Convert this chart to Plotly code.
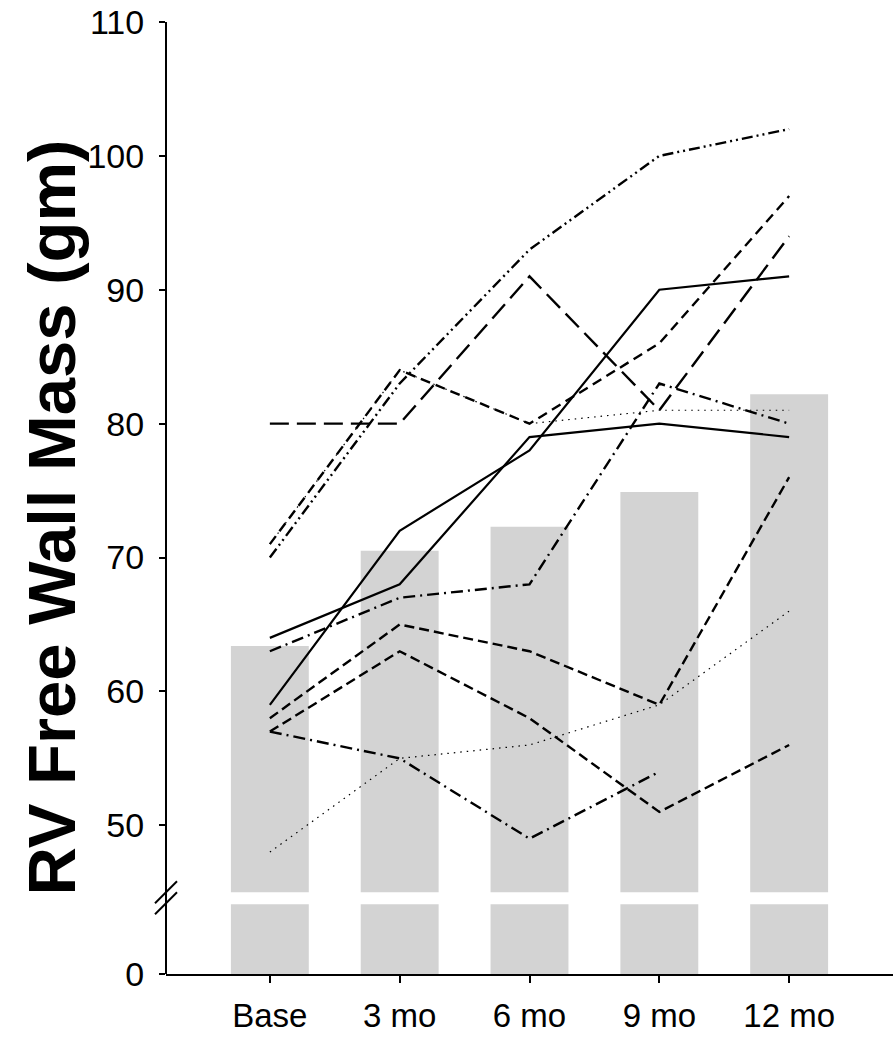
import plotly.graph_objects as go

# Time points
categories = ["Base", "3 mo", "6 mo", "9 mo", "12 mo"]

# Group means (bars)
mean_mass = [63.4, 70.5, 72.3, 74.9, 82.2]

# Individual subjects (RV free wall mass, gm)
subj_dashdotdot = [70, 83, 93, 100, 102]
subj_meddash = [71, 84, 80, 86, 97]
subj_dotted_a = [71, 84, 80, 81, 81]
subj_longdash = [80, 80, 91, 81, 94]
subj_solid_a = [64, 68, 79, 80, 79]
subj_solid_b = [59, 72, 78, 90, 91]
subj_dashdot_a = [63, 67, 68, 83, 80]
subj_dash_a = [58, 65, 63, 59, 76]
subj_dash_b = [57, 63, 58, 51, 56]
subj_dashdot_b = [57, 55, 49, 54, None]
subj_dotted_b = [48, 55, 56, 59, 66]

FONT = "Arial, 'Liberation Sans', Helvetica, sans-serif"
xs = list(range(len(categories)))

fig = go.Figure()

# Bars drawn on both segments of the broken axis
for yax in ("y", "y2"):
    fig.add_trace(go.Bar(x=xs, y=mean_mass, width=0.6, yaxis=yax,
                         marker=dict(color="#d3d3d3", line=dict(width=0)),
                         showlegend=False, hoverinfo="skip"))

subjects = [
    (subj_dotted_a, "1.5px,5px", 1.2),
    (subj_meddash, "10px,6px", 2.4),
    (subj_dashdotdot, "11px,4px,2px,4px,2px,4px", 2.4),
    (subj_longdash, "19px,8px", 2.4),
    (subj_solid_a, "solid", 2.2),
    (subj_solid_b, "solid", 2.2),
    (subj_dashdot_a, "12px,5px,2px,5px", 2.4),
    (subj_dash_a, "10px,5px", 2.4),
    (subj_dash_b, "10px,5px", 2.4),
    (subj_dashdot_b, "12px,5px,2px,5px", 2.4),
    (subj_dotted_b, "1.5px,5px", 1.2),
]
for vals, dash, w in subjects:
    fig.add_trace(go.Scatter(x=xs, y=vals, mode="lines", yaxis="y",
                             line=dict(color="black", width=w, dash=dash),
                             connectgaps=False, showlegend=False,
                             hoverinfo="skip"))

# Pixel helpers for the paper-coordinate decorations
H = 955.0
W = 727.0
def py(ypix):
    return (975 - ypix) / H
def px(xpix):
    return (xpix - 166) / W

# Vertical axis line spanning both segments, plus the break marks
shapes = [
    dict(type="line", xref="paper", yref="paper", x0=0, x1=0,
         y0=0, y1=1, line=dict(color="black", width=2)),
]
for off in (0, 11):
    shapes.append(dict(type="line", xref="paper", yref="paper",
                       x0=px(155), x1=px(177),
                       y0=py(915 - off), y1=py(893 - off),
                       line=dict(color="black", width=2)))

fig.update_layout(
    width=896, height=1037,
    margin=dict(l=166, r=3, t=20, b=62),
    paper_bgcolor="white", plot_bgcolor="white",
    barmode="overlay",
    font=dict(family=FONT, size=33, color="black"),
    shapes=shapes,
    xaxis=dict(range=[-0.80, 4.80], tickvals=xs, ticktext=categories,
               anchor="y2", showline=True, linecolor="black", linewidth=2,
               ticks="outside", ticklen=7, tickwidth=2, tickcolor="black",
               ticklabelstandoff=4,
               showgrid=False, zeroline=False,
               tickfont=dict(family=FONT, size=33)),
    yaxis=dict(domain=[py(893), 1], range=[45, 110],
               tickvals=[50, 60, 70, 80, 90, 100, 110],
               ticks="outside", ticklen=6, tickwidth=2, tickcolor="black",
               ticklabelstandoff=8,
               showline=False, showgrid=False, zeroline=False,
               tickfont=dict(family=FONT, size=34)),
    yaxis2=dict(domain=[0, py(905)], range=[0, 5], tickvals=[0],
                ticks="outside", ticklen=6, tickwidth=2, tickcolor="black",
                ticklabelstandoff=8,
                showline=False, showgrid=False, zeroline=False,
                tickfont=dict(family=FONT, size=34)),
    annotations=[
        dict(text="<b>RV Free Wall Mass (gm)</b>", xref="paper", yref="paper",
             x=px(51), y=py(517), xanchor="center", yanchor="middle",
             textangle=-90, showarrow=False,
             font=dict(family=FONT, size=67, color="black")),
    ],
)

fig.write_html("out.html")
